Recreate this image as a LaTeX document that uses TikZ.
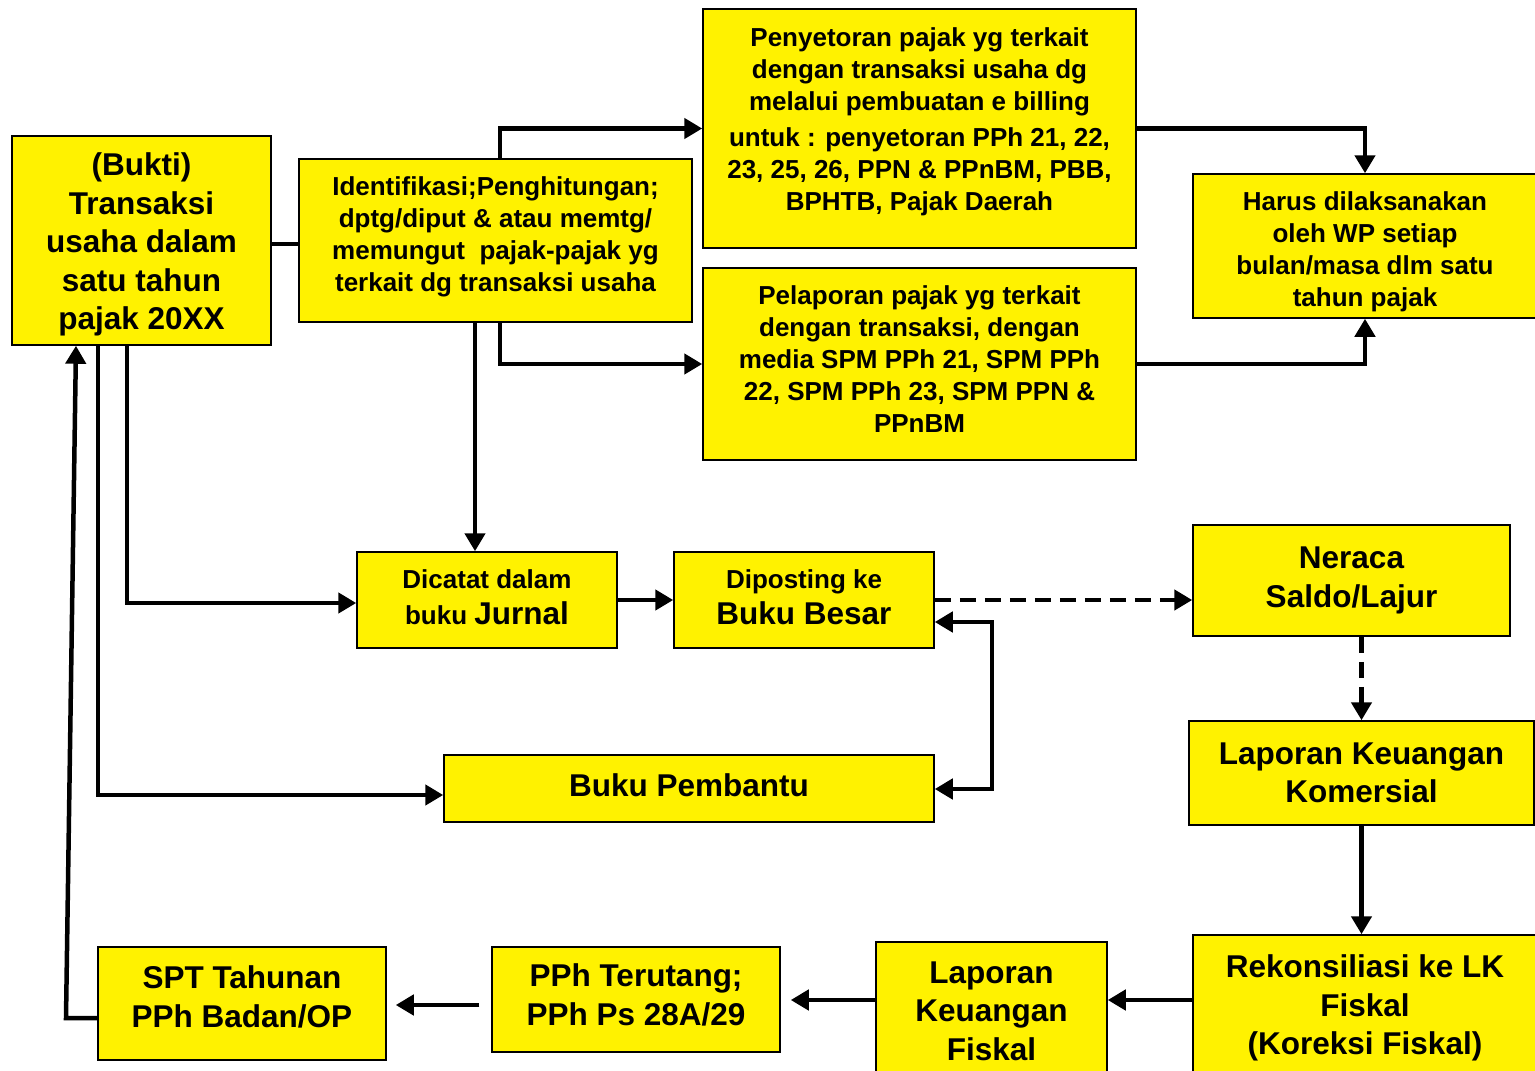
\documentclass[tikz,border=0pt]{standalone}
\usepackage{fontspec}
\setmainfont{Liberation Sans}
\usetikzlibrary{arrows.meta}

% struts to nudge the text inside a box
\newcommand{\deepstrut}[1]{\rule[-#1]{0pt}{#1}}
\newcommand{\tallstrut}[1]{\rule{0pt}{#1}}

\tikzset{
  box/.style={draw, line width=1.5pt, fill=yellow, inner sep=0pt, align=center},
  boxs/.style={box, font=\bfseries\fontsize{26}{32}\selectfont},
  boxl/.style={box, font=\bfseries\fontsize{31.5}{38.5}\selectfont},
  arr/.style={line width=4.5pt, -{Triangle[length=18pt,width=20pt]}},
  dblarr/.style={line width=4.5pt, {Triangle[length=18pt,width=20pt]}-{Triangle[length=18pt,width=20pt]}},
  dasharr/.style={arr, dash pattern=on 16pt off 9pt}
}

\begin{document}
\begin{tikzpicture}[x=1pt, y=-1pt]
      \clip (0,0) rectangle (1535,1071);

      % Draw the boxes of the upper part
      \node[boxl, minimum width=259, minimum height=209] (bukti) at (141.5,240.5)
        {\tallstrut{31pt}(Bukti)\\ Transaksi\\ usaha dalam\\ satu tahun\\ pajak 20XX};
      \node[boxs, minimum width=393, minimum height=163] (ident) at (495.5,240.5)
        {Identifikasi;Penghitungan;\\ dptg/diput \& atau memtg/\\ memungut\ \ pajak-pajak yg\\ terkait dg transaksi usaha\deepstrut{13.5pt}};
      \node[boxs, minimum width=433, minimum height=239] (penyetoran) at (919.5,128.5)
        {Penyetoran pajak yg terkait\\ dengan transaksi usaha dg\\ melalui pembuatan e billing\\[4pt] untuk : penyetoran PPh 21, 22,\\ 23, 25, 26, PPN \& PPnBM, PBB,\\ BPHTB, Pajak Daerah\deepstrut{19.5pt}};
      \node[boxs, minimum width=433, minimum height=192] (pelaporan) at (919.5,364)
        {Pelaporan pajak yg terkait\\ dengan transaksi, dengan\\ media SPM PPh 21, SPM PPh\\ 22, SPM PPh 23, SPM PPN \&\\ PPnBM\deepstrut{10pt}};
      \node[boxs, minimum width=344, minimum height=144] (harus) at (1365,246)
        {\tallstrut{31pt}Harus dilaksanakan\\ oleh WP setiap\\ bulan/masa dlm satu\\ tahun pajak};

      % Draw the boxes of the middle part
      \node[boxs, minimum width=260, minimum height=96] (dicatat) at (487,600)
        {Dicatat dalam\\[4pt] buku {\fontsize{31.5}{38.5}\selectfont Jurnal}\deepstrut{6pt}};
      \node[boxs, minimum width=260, minimum height=96] (diposting) at (804,600)
        {Diposting ke\\[4pt] {\fontsize{31.5}{38.5}\selectfont Buku Besar}\deepstrut{6pt}};
      \node[boxl, minimum width=317, minimum height=111] (neraca) at (1351.5,580.5)
        {Neraca\\ Saldo/Lajur};
      \node[boxl, minimum width=490, minimum height=67] (pembantu) at (689,788.5)
        {Buku Pembantu\deepstrut{6pt}};
      \node[boxl, minimum width=345, minimum height=104] (lkk) at (1361.5,773)
        {Laporan Keuangan\\ Komersial};

      % Draw the boxes of the lower part
      \node[boxl, minimum width=344, minimum height=140] (rekon) at (1365,1005)
        {\tallstrut{29pt}Rekonsiliasi ke LK\\ Fiskal\\ (Koreksi Fiskal)};
      \node[boxl, minimum width=231, minimum height=138] (lkf) at (991.5,1011)
        {Laporan\\ Keuangan\\ Fiskal};
      \node[boxl, minimum width=288, minimum height=105] (pphter) at (636,999.5)
        {PPh Terutang;\\ PPh Ps 28A/29\deepstrut{10pt}};
      \node[boxl, minimum width=288, minimum height=113] (spt) at (242,1003.5)
        {SPT Tahunan\\ PPh Badan/OP\deepstrut{14pt}};

      % Helper coordinates for the bends
      \coordinate (c1) at (500,0);
      \coordinate (c2) at (475,0);
      \coordinate (c3) at (127,0);
      \coordinate (c4) at (98,0);
      \coordinate (c5) at (992,0);
      \coordinate (c6) at (66,1018);
      \coordinate (c7) at (76,0);
      \coordinate (d1) at (0,622);
      \coordinate (d2) at (0,789);
      \coordinate (d3) at (0,603);
      \coordinate (d4) at (0,795);
      \coordinate (r0) at (0,244);
      \coordinate (r1) at (0,1000);
      \coordinate (r2) at (0,1005);

      % Connect the upper part
      \draw[line width=4.5pt] (bukti.east |- r0) -- (ident.west |- r0);
      \draw[arr] (ident.north -| c1) |- (penyetoran.west);
      \draw[arr] (ident.south -| c1) |- (pelaporan.west);
      \draw[arr] (ident.south -| c2) -- (dicatat.north -| c2);
      \draw[arr] (penyetoran.east) -| (harus.north);
      \draw[arr] (pelaporan.east) -| (harus.south);

      % Connect the middle part
      \draw[arr] (bukti.south -| c3) |- (dicatat.west |- d3);
      \draw[arr] (bukti.south -| c4) |- (pembantu.west |- d4);
      \draw[arr] (dicatat) -- (diposting);
      \draw[dasharr] (diposting.east) -- (neraca.west |- diposting.east);
      \draw[dasharr] (neraca.south -| lkk.north) -- (lkk.north);
      \draw[dblarr] (diposting.east |- d1) -- (c5 |- d1) -- (c5 |- d2) -- (pembantu.east |- d2);
      \draw[arr] (lkk.south) -- (rekon.north -| lkk.south);

      % Connect the lower part
      \draw[arr] (rekon.west |- r1) -- (lkf.east |- r1);
      \draw[arr, shorten >=10pt] (lkf.west |- r1) -- (pphter.east |- r1);
      \draw[arr, shorten <=12pt, shorten >=9pt] (pphter.west |- r2) -- (spt.east |- r2);
      \draw[arr] (spt.west |- c6) -- (c6) -- (bukti.south -| c7);
    \end{tikzpicture}
\end{document}
